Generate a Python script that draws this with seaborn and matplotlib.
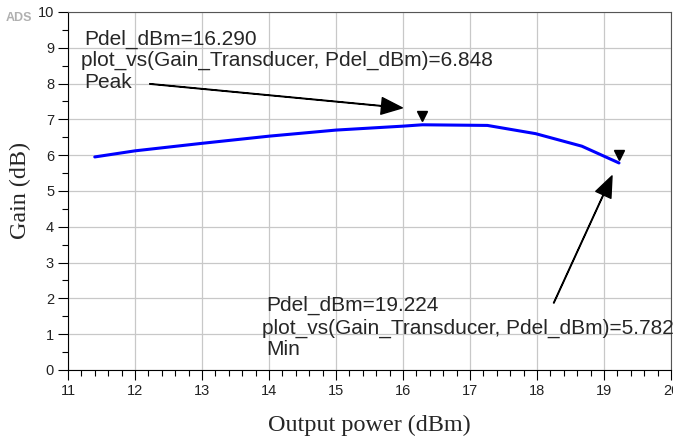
import matplotlib
matplotlib.use("Agg")
import matplotlib.pyplot as plt
import matplotlib.transforms as mtransforms
import seaborn as sns
import pandas as pd
from matplotlib.ticker import MultipleLocator

# Data
pdel_dbm = [11.40, 12.00, 13.00, 14.00, 15.00, 16.00, 16.29, 17.26, 17.98, 18.67, 19.224]
gain_db = [5.95, 6.12, 6.33, 6.53, 6.70, 6.81, 6.848, 6.83, 6.60, 6.25, 5.782]

peak_x, peak_y = 16.290, 6.848
min_x, min_y = 19.224, 5.782

x_ticks = [11, 12, 13, 14, 15, 16, 17, 18, 19, 20]
y_ticks = [0, 1, 2, 3, 4, 5, 6, 7, 8, 9, 10]

df = pd.DataFrame({"Pdel": pdel_dbm, "Gain": gain_db})

sns.set_style("white")
plt.rcParams["font.family"] = ["Liberation Sans", "DejaVu Sans"]

fig = plt.figure(figsize=(6.73, 4.42), dpi=100)
ax = fig.add_axes([0.101, 0.163, 0.896, 0.81])

sns.lineplot(data=df, x="Pdel", y="Gain", ax=ax, color="#0000ff", linewidth=2.2, sort=False)

# markers (slightly above the points, as in ADS)
off = mtransforms.ScaledTranslation(0, 6 / 72, fig.dpi_scale_trans)
ax.plot([peak_x, min_x], [peak_y, min_y], linestyle="none", marker="v", color="black",
        markersize=7, transform=ax.transData + off)

ax.set_xlim(11, 20)
ax.set_ylim(0, 10)
ax.set_xticks(x_ticks)
ax.set_yticks(y_ticks)
ax.xaxis.set_minor_locator(MultipleLocator(0.2))
ax.yaxis.set_minor_locator(MultipleLocator(0.5))
ax.tick_params(axis="both", which="both", bottom=True, left=True, top=False, right=False)
ax.tick_params(axis="both", which="major", direction="out", length=7, width=0.8, color="black",
               labelsize=10.5, labelcolor="#222222", pad=3)
ax.tick_params(axis="both", which="minor", direction="out", length=4, width=0.8, color="black")
ax.grid(True, which="major", color="#c8c8c8", linewidth=0.9)
for s in ax.spines.values():
    s.set_color("#555555")
    s.set_linewidth(0.8)
ax.spines["left"].set_color("black")
ax.spines["bottom"].set_color("black")

ax.set_xlabel("Output power (dBm)", family="Liberation Serif", fontsize=17.4)
ax.set_ylabel("Gain (dB)", family="Liberation Serif", fontsize=17.4)
ax.xaxis.set_label_coords(0.5, -0.125)
ax.yaxis.set_label_coords(-0.062, 0.5)

fs = 15
ax.text(11.25, 9.22, f"Pdel_dBm={peak_x:.3f}", fontsize=fs, va="center", ha="left")
ax.text(11.20, 8.66, f"plot_vs(Gain_Transducer, Pdel_dBm)={peak_y:.3f}", fontsize=fs, va="center", ha="left")
ax.text(11.25, 8.04, "Peak", fontsize=fs, va="center", ha="left")

ax.text(13.96, 1.79, f"Pdel_dBm={min_x:.3f}", fontsize=fs, va="center", ha="left")
ax.text(13.90, 1.17, f"plot_vs(Gain_Transducer, Pdel_dBm)={min_y:.3f}", fontsize=fs, va="center", ha="left")
ax.text(13.96, 0.56, "Min", fontsize=fs, va="center", ha="left")

arrow = dict(facecolor="black", edgecolor="black", width=0.4, headwidth=12, headlength=15, shrink=0)
ax.annotate("", xy=(15.99, 7.32), xytext=(12.22, 7.99), arrowprops=arrow)
ax.annotate("", xy=(19.12, 5.42), xytext=(18.25, 1.87), arrowprops=arrow)

fig.text(0.008, 0.952, "ADS", fontsize=9, color="#b0b0b0", fontweight="bold")

fig.savefig("out.png", dpi=100)
